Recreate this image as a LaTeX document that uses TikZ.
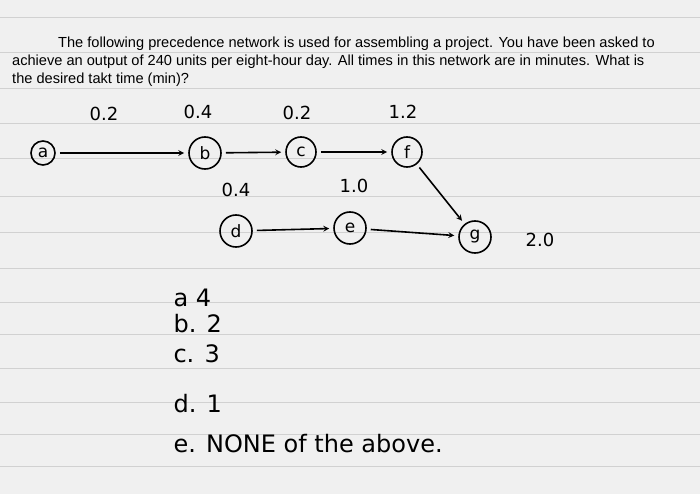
\documentclass[tikz,border=0pt]{standalone}
\usepackage{fontspec}
\setmainfont{Liberation Sans}
\newfontfamily\hand{DejaVu Sans}
\begin{document}
\begin{tikzpicture}[x=1pt,y=-1pt,
  nd/.style={draw,circle,line width=1.6pt,inner sep=1pt,minimum size=22pt,font=\hand\fontsize{17}{19}\selectfont},
  lab/.style={font=\hand\fontsize{18}{20}\selectfont},
  ar/.style={->,line width=1.6pt,>=stealth,shorten >=4pt,shorten <=4pt},
  rule/.style={draw=black!18,line width=0.8pt}]
\fill[black!6] (0,0) rectangle (700,494);
\useasboundingbox (0,0) rectangle (700,494);
\foreach \y in {17,52,88,123,158,196,232,268,302,334,368,402,434,466}
  \draw[rule] (0,\y) -- (700,\y);
\begin{scope}[every node/.style={anchor=west,inner sep=0pt,font=\fontsize{14.6}{16}\selectfont}]
\node (t1) at (58,44) {The following precedence network is used for assembling a project. You have been asked to};
\node (t2) at (12,62) {achieve an output of 240 units per eight-hour day. All times in this network are in minutes. What is};
\node (t3) at (12,80) {the desired takt time (min)?};
\end{scope}
\node[nd,minimum size=24pt] (a) at (43,153) {a};
\node[nd,minimum size=32pt] (b) at (205,153) {b};
\node[nd,minimum size=30pt] (c) at (301,152) {c};
\node[nd,minimum size=30pt] (f) at (407,152) {f};
\node[nd,minimum size=32pt] (d) at (236,231) {d};
\node[nd,minimum size=32pt] (e) at (350,228) {e};
\node[nd,minimum size=32pt] (g) at (475,237) {g};
\draw[ar] (a) -- (b);
\draw[ar] (b) -- (c);
\draw[ar] (c) -- (f);
\draw[ar] (f) -- (g);
\draw[ar] (d) -- (e);
\draw[ar] (e) -- (g);
\node[lab] (la) at (104,114) {0.2};
\node[lab] (lb) at (198,112) {0.4};
\node[lab] (lc) at (297,113) {0.2};
\node[lab] (lf) at (403,112) {1.2};
\node[lab] (ld) at (236,190) {0.4};
\node[lab] (le) at (354,186) {1.0};
\node[lab] (lg) at (540,240) {2.0};
\begin{scope}[every node/.style={anchor=west,font=\hand\fontsize{24}{26}\selectfont}]
\node (o1) at (170,298) {a 4};
\node (o2) at (170,324) {b. 2};
\node (o3) at (170,354) {c. 3};
\node (o4) at (170,404) {d. 1};
\node (o5) at (170,444) {e. NONE of the above.};
\end{scope}
\end{tikzpicture}
\end{document}
